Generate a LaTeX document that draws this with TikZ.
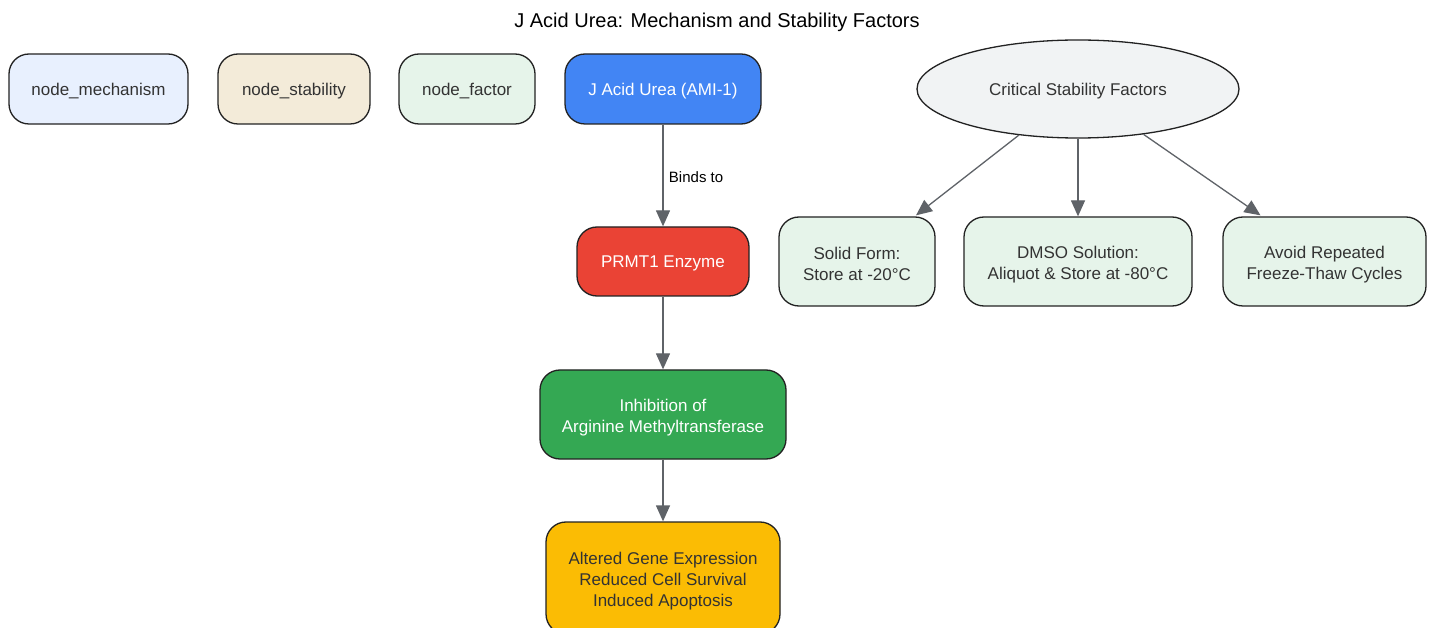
\documentclass[tikz,border=0pt]{standalone}
\usepackage{fontspec}
\setmainfont{Liberation Sans}
\usetikzlibrary{shapes.geometric,arrows.meta,calc}
\definecolor{mechfill}{HTML}{E8F0FE}
\definecolor{stabfill}{HTML}{F3EBD9}
\definecolor{factfill}{HTML}{E6F4EA}
\definecolor{gblue}{HTML}{4285F4}
\definecolor{gred}{HTML}{EA4335}
\definecolor{ggreen}{HTML}{34A853}
\definecolor{gyellow}{HTML}{FBBC04}
\definecolor{ellfill}{HTML}{F1F3F4}
\definecolor{edgecol}{HTML}{5F6368}
\definecolor{txtdark}{HTML}{333333}
\definecolor{border}{HTML}{222222}
\newcommand{\upstrut}{\rule{0pt}{16pt}}
\newcommand{\multistrut}{\rule{0pt}{18pt}}
\tikzset{
  box/.style={draw=border, line width=1.3pt, rounded corners=20pt, align=center,
    font=\fontsize{17}{21}\selectfont, text=txtdark, inner sep=0pt},
  darktext/.style={text=white},
  conn/.style={draw=edgecol, line width=1.3pt, -{Triangle[length=16pt,width=14pt]}},
}
\begin{document}
\begin{tikzpicture}[x=1pt,y=-1pt]
\path[use as bounding box, fill=white] (0,0) rectangle (1433,628);
\node[font=\fontsize{20}{24}\selectfont, text=black] (title) at (717,22.5) {J Acid Urea: Mechanism and Stability Factors};

\node[box, fill=mechfill, minimum width=179pt, minimum height=70pt] (mech) at (98.5,89) {\upstrut node\_mechanism};
\node[box, fill=stabfill, minimum width=152pt, minimum height=70pt] (stab) at (294,89) {\upstrut node\_stability};
\node[box, fill=factfill, minimum width=136pt, minimum height=70pt] (fact) at (467,89) {\upstrut node\_factor};

\node[box, darktext, fill=gblue, minimum width=196pt, minimum height=70pt] (jau) at (663,89) {\upstrut J Acid Urea (AMI-1)};
\node[box, darktext, fill=gred, minimum width=172pt, minimum height=69pt] (prmt) at (663,261.5) {\upstrut PRMT1 Enzyme};
\node[box, darktext, fill=ggreen, minimum width=246pt, minimum height=89pt] (inh) at (663,414.5) {\multistrut Inhibition of\\Arginine Methyltransferase};
\node[box, fill=gyellow, minimum width=234pt, minimum height=112pt] (alt) at (663,578) {\multistrut Altered Gene Expression\\Reduced Cell Survival\\Induced Apoptosis};

\node[ellipse, draw=border, line width=1.3pt, fill=ellfill, minimum width=322pt, minimum height=98pt,
  font=\fontsize{17}{21}\selectfont, text=txtdark, inner sep=0pt] (ell) at (1078,89) {\upstrut Critical Stability Factors};

\node[box, fill=factfill, minimum width=156pt, minimum height=89pt] (solid) at (857,261.5) {\multistrut Solid Form:\\Store at -20°C};
\node[box, fill=factfill, minimum width=228pt, minimum height=89pt] (dmso) at (1078,261.5) {\multistrut DMSO Solution:\\Aliquot \& Store at -80°C};
\node[box, fill=factfill, minimum width=203pt, minimum height=89pt] (avoid) at (1324.5,261.5) {\multistrut Avoid Repeated\\Freeze-Thaw Cycles};

\draw[conn] (jau) -- node[right, xshift=2pt, yshift=-2pt, font=\fontsize{15}{17}\selectfont, text=black] {Binds to} (prmt);
\draw[conn] (prmt) -- (inh);
\draw[conn] (inh) -- (alt);

\coordinate (solidtip) at ($(solid.north)+(59,-1)$);
\coordinate (avoidtip) at ($(avoid.north)+(-64,-1)$);
\draw[conn] (ell) -- (solidtip);
\draw[conn] (ell) -- (dmso);
\draw[conn] (ell) -- (avoidtip);
\end{tikzpicture}
\end{document}
